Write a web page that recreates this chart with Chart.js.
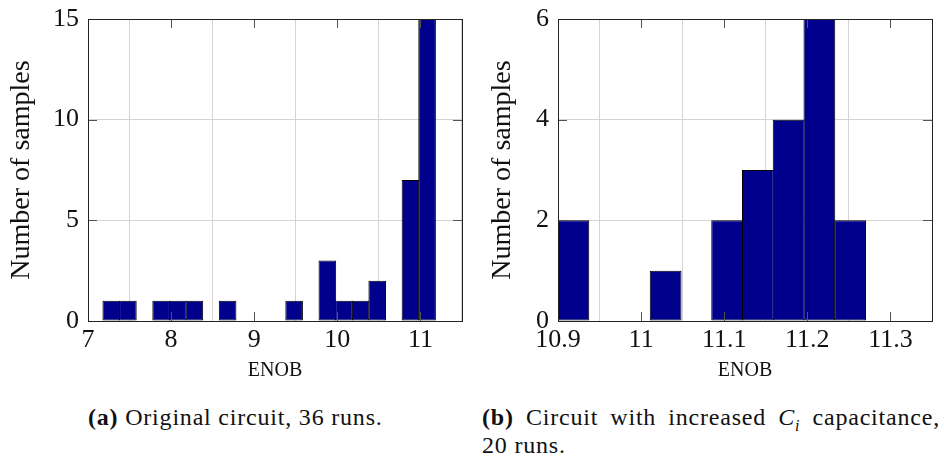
<!DOCTYPE html>
<html>
<head>
<meta charset="utf-8">
<script src="https://cdn.jsdelivr.net/npm/chart.js@4.4.1/dist/chart.umd.min.js"></script>
<style>
  body { margin: 0; background: #fff; width: 944px; height: 457px; position: relative; overflow: hidden; }
  .bloc { position: absolute; top: 0; height: 395px; }
  .legende { position: absolute; font-family: "Liberation Serif", serif; font-size: 24px; line-height: 28px; letter-spacing: 0.8px; color: #111; white-space: nowrap; }
</style>
</head>
<body>
<div class="bloc" style="left:0; width:470px;"><canvas id="histoA"></canvas></div>
<div class="bloc" style="left:470px; width:474px;"><canvas id="histoB"></canvas></div>
<div class="legende" style="left:88px; top:403px;"><b>(a)</b> Original circuit, 36 runs.</div>
<div class="legende" style="left:482px; top:403px; width:458px; text-align:justify; text-align-last:justify;"><b>(b)</b> Circuit with increased <i>C</i><sub style="font-size:16px; line-height:0;"><i>i</i></sub> capacitance,</div>
<div class="legende" style="left:482px; top:431px;">20 runs.</div>
<script>
// Histogramme (a) : circuit d'origine, 36 runs
const bornesA = [7.18, 7.38, 7.58, 7.78, 7.98, 8.18, 8.38, 8.58, 8.78, 8.98, 9.18, 9.38, 9.58, 9.78, 9.98, 10.18, 10.38, 10.58, 10.78, 10.98, 11.18];
const effectifsA = [1, 1, 0, 1, 1, 1, 0, 1, 0, 0, 0, 1, 0, 3, 1, 1, 2, 0, 7, 15];
const graduationsXA = [7, 8, 9, 10, 11];
const graduationsYA = [0, 5, 10, 15];

// Histogramme (b) : capacité C_i augmentée, 20 runs
const bornesB = [10.9, 10.937, 10.974, 11.011, 11.048, 11.085, 11.122, 11.159, 11.196, 11.233, 11.27];
const effectifsB = [2, 0, 0, 1, 0, 2, 3, 4, 6, 2];
const graduationsXB = [10.9, 11, 11.1, 11.2, 11.3];
const graduationsYB = [0, 2, 4, 6];

const POLICE = "'Liberation Serif', serif";


const cadrePlugin = {
    /**
     * Dessine le cadre de l'axe et les petites graduations intérieures (style pgfplots)
     */
    id: 'cadre',
    afterDatasetsDraw(chart) {
        const { ctx, chartArea: zone, scales } = chart;
        ctx.save();
        ctx.strokeStyle = '#555';
        ctx.lineWidth = 1;
        const longueur = 9;
        scales.x.ticks.forEach((t) => {
            const x = Math.round(scales.x.getPixelForValue(t.value)) + 0.5;
            ctx.beginPath();
            ctx.moveTo(x, zone.bottom); ctx.lineTo(x, zone.bottom - longueur);
            ctx.moveTo(x, zone.top); ctx.lineTo(x, zone.top + longueur);
            ctx.stroke();
        });
        scales.y.ticks.forEach((t) => {
            const y = Math.round(scales.y.getPixelForValue(t.value)) + 0.5;
            ctx.beginPath();
            ctx.moveTo(zone.left, y); ctx.lineTo(zone.left + longueur, y);
            ctx.moveTo(zone.right, y); ctx.lineTo(zone.right - longueur, y);
            ctx.stroke();
        });
        ctx.strokeStyle = '#222';
        ctx.strokeRect(Math.round(zone.left) + 0.5, Math.round(zone.top) + 0.5,
            Math.round(zone.right - zone.left), Math.round(zone.bottom - zone.top));
        ctx.restore();
    },
};


function creerHistogramme(canvas, bornes, effectifs, gradX, gradY, xMax, opts) {
    /**
     * @param {HTMLCanvasElement} canvas - Le canvas où dessiner
     * @param {number[]} bornes - Les bornes des classes (une de plus que les effectifs)
     * @param {number[]} effectifs - Le nombre d'échantillons par classe
     * @param {number[]} gradX - Les graduations de l'axe des abscisses
     * @param {number[]} gradY - Les graduations de l'axe des ordonnées
     * @param {number} xMax - La borne droite de l'axe des abscisses
     * @param {Object} opts - Réglages de mise en page propres à chaque graphique
     */
    const points = effectifs.map((n, i) => ({ x: (bornes[i] + bornes[i + 1]) / 2, y: n }));
    return new Chart(canvas, {
        type: 'bar',
        data: {
            datasets: [{
                data: points,
                backgroundColor: '#00008c',
                borderColor: '#000',
                borderWidth: 1,
                borderSkipped: false,
                barPercentage: opts.largeurBarre,
                categoryPercentage: 1,
            }],
        },
        options: {
            responsive: false,
            animation: false,
            devicePixelRatio: 1,
            layout: { padding: { top: 19, right: opts.margeDroite, left: 0, bottom: 0 } },
            plugins: { legend: { display: false }, tooltip: { enabled: false } },
            scales: {
                x: {
                    type: 'linear',
                    offset: false,
                    min: gradX[0],
                    max: xMax,
                    afterBuildTicks: (axe) => { axe.ticks = gradX.map((v) => ({ value: v })); },
                    afterFit: (axe) => { axe.height = 74; axe.paddingLeft = 0; axe.paddingRight = 0; },
                    grid: { color: '#d4d4d4', drawTicks: false },
                    border: { display: false },
                    ticks: {
                        color: '#111',
                        padding: 4,
                        maxRotation: 0,
                        font: { family: POLICE, size: 26 },
                        callback: (valeur) => valeur.toString(),
                    },
                    title: {
                        display: true,
                        text: 'ENOB',
                        color: '#111',
                        padding: { bottom: 12 },
                        font: { family: POLICE, size: 20 },
                    },
                },
                y: {
                    min: 0,
                    max: gradY[gradY.length - 1],
                    afterBuildTicks: (axe) => { axe.ticks = gradY.map((v) => ({ value: v })); },
                    afterFit: (axe) => { axe.width = 88; axe.paddingTop = 0; axe.paddingBottom = 0; },
                    grid: { color: '#d4d4d4', drawTicks: false },
                    border: { display: false },
                    ticks: {
                        color: '#111',
                        padding: 9,
                        font: { family: POLICE, size: 26 },
                        callback: (valeur) => valeur.toString(),
                    },
                    title: {
                        display: true,
                        text: 'Number of samples',
                        color: '#111',
                        padding: { top: opts.margeTitreY },
                        font: { family: POLICE, size: 28 },
                    },
                },
            },
        },
        plugins: [cadrePlugin],
    });
}


function preparerCanvas(id, largeur, hauteur) {
    const canvas = document.getElementById(id);
    canvas.width = largeur;
    canvas.height = hauteur;
    canvas.style.width = largeur + 'px';
    canvas.style.height = hauteur + 'px';
    return canvas;
}

creerHistogramme(preparerCanvas('histoA', 470, 395), bornesA, effectifsA, graduationsXA, graduationsYA, 11.5,
    { margeDroite: 8, margeTitreY: 5, largeurBarre: 1.06 });
creerHistogramme(preparerCanvas('histoB', 474, 395), bornesB, effectifsB, graduationsXB, graduationsYB, 11.35,
    { margeDroite: 12, margeTitreY: 16, largeurBarre: 1.033 });
</script>
</body>
</html>
